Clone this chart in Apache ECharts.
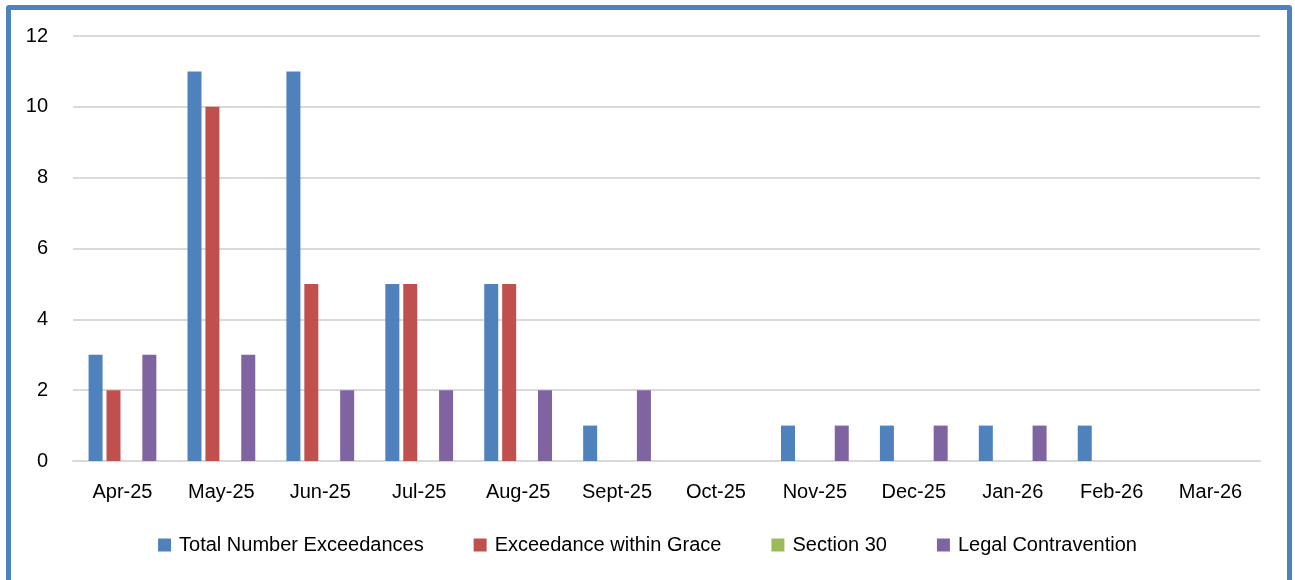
<!DOCTYPE html>
<html>
<head>
<meta charset="utf-8">
<script src="https://cdn.jsdelivr.net/npm/echarts@6/dist/echarts.min.js"></script>
<style>
html,body{margin:0;padding:0;background:#fff;}
#wrap{position:relative;width:1295px;height:580px;overflow:hidden;}
#chart{position:absolute;left:0;top:0;width:1295px;height:580px;}
#frame{position:absolute;left:6px;top:5px;width:1276px;height:600px;border:5px solid #4F81BD;border-radius:3px;pointer-events:none;}
</style>
</head>
<body>
<div id="wrap"><div id="chart"></div><div id="frame"></div></div>
<script>
const categories = ['Apr-25','May-25','Jun-25','Jul-25','Aug-25','Sept-25','Oct-25','Nov-25','Dec-25','Jan-26','Feb-26','Mar-26'];
const totalExceedances = [3, 11, 11, 5, 5, 1, 0, 1, 1, 1, 1, 0];
const withinGrace = [2, 10, 5, 5, 5, 0, 0, 0, 0, 0, 0, 0];
const section30 = [0, 0, 0, 0, 0, 0, 0, 0, 0, 0, 0, 0];
const legalContravention = [3, 3, 2, 2, 2, 2, 0, 1, 1, 1, 0, 0];
const yTicks = [0, 2, 4, 6, 8, 10, 12];

const font = 'Liberation Sans, Arial, sans-serif';
const chart = echarts.init(document.getElementById('chart'), null, {renderer:'canvas'});
function bar(name, data, color){
  return {name, type:'bar', data, barWidth:14, barGap:'28%',
    itemStyle:{color}};
}
chart.setOption({
  animation:false,
  textStyle:{fontFamily:font},
  grid:{left:73, right:35, top:36, bottom:119, containLabel:false},
  legend:{bottom:20, left:'center', itemWidth:13, itemHeight:13, itemGap:50, icon:'rect',
    textStyle:{fontSize:20, color:'#000', fontFamily:font, padding:[0,0,0,3]}},
  xAxis:{type:'category', data:categories,
    axisLine:{lineStyle:{color:'#d9d9d9', width:2}}, axisTick:{show:false},
    axisLabel:{color:'#000', fontSize:20, margin:21, fontFamily:font, interval:0}},
  yAxis:{type:'value', min:yTicks[0], max:yTicks[yTicks.length-1], interval:2,
    axisLine:{show:false}, axisTick:{show:false},
    splitLine:{lineStyle:{color:'#d9d9d9', width:2}},
    axisLabel:{color:'#000', fontSize:20, margin:25, fontFamily:font}},
  series:[
    bar('Total Number Exceedances', totalExceedances, '#4F81BD'),
    bar('Exceedance within Grace', withinGrace, '#C0504D'),
    bar('Section 30', section30, '#9BBB59'),
    bar('Legal Contravention', legalContravention, '#8064A2')
  ]
});
</script>
</body>
</html>
